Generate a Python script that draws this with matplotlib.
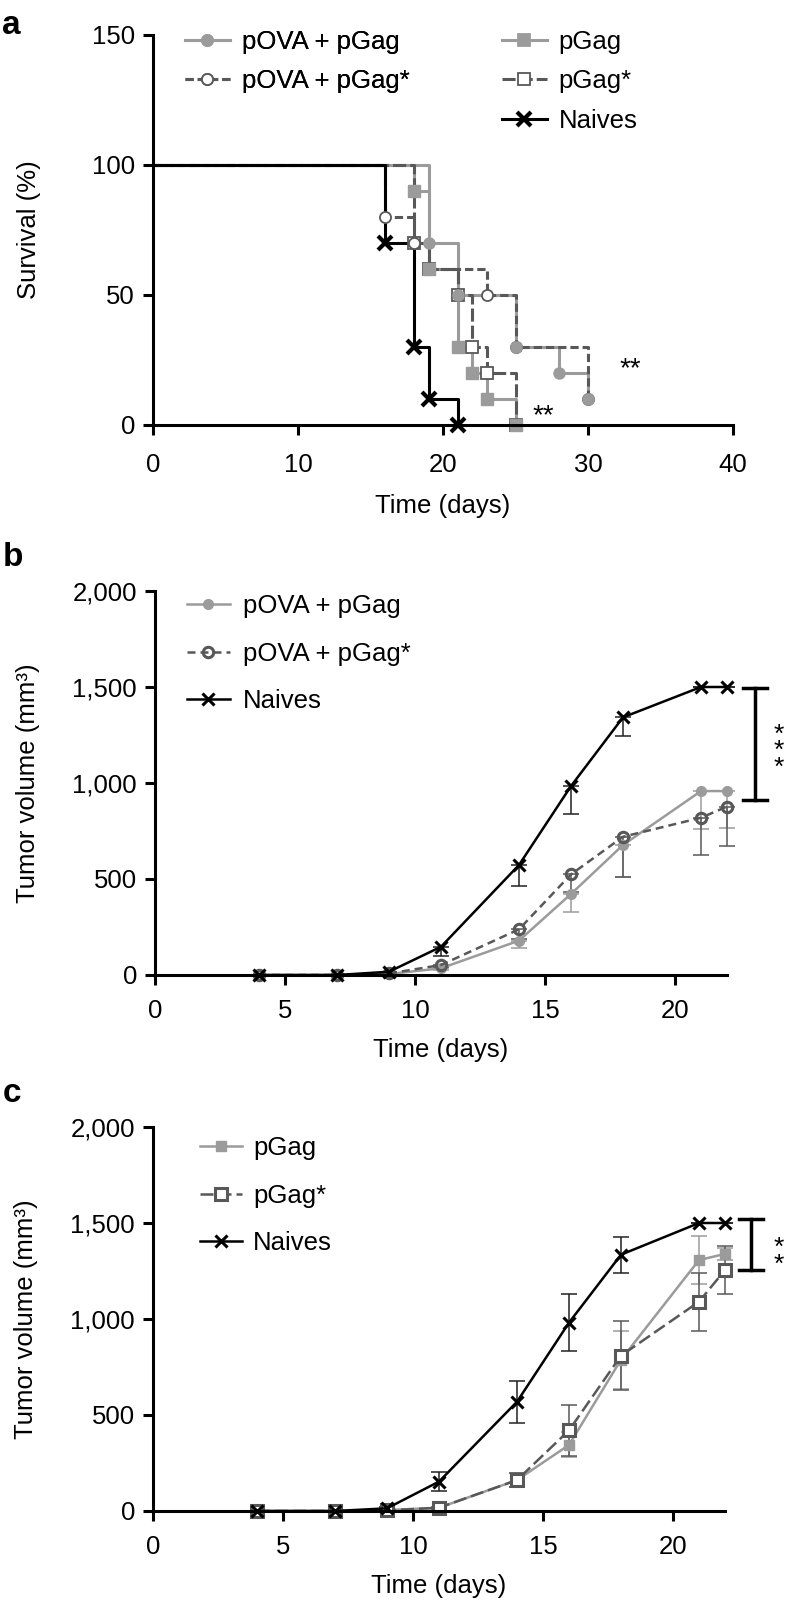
import matplotlib
matplotlib.use('Agg')
import matplotlib.pyplot as plt
from matplotlib.lines import Line2D

plt.rcParams['font.family'] = ['Liberation Sans', 'DejaVu Sans']
FS = 18.5
plt.rcParams['font.size'] = FS

LIGHT = '#9b9b9b'
DARK = '#585858'

# --- panel a: survival (Kaplan-Meier steps) ---
naive_t = [0, 16, 18, 19, 21]
naive_s = [100, 70, 30, 10, 0]
pova_t = [0, 19, 21, 25, 28, 30]
pova_s = [100, 70, 50, 30, 20, 10]
povastar_t = [0, 16, 18, 19, 23, 25, 30]
povastar_s = [100, 80, 70, 60, 50, 30, 10]
pgag_t = [0, 18, 19, 21, 22, 23, 25]
pgag_s = [100, 90, 60, 30, 20, 10, 0]
pgagstar_t = [0, 18, 19, 21, 22, 23, 25]
pgagstar_s = [100, 70, 60, 50, 30, 20, 0]

# --- panels b and c: tumour volume ---
days = [4, 7, 9, 11, 14, 16, 18, 21, 22]

naive_b = [0, 0, 17, 147, 573, 984, 1342, 1500, 1500]
naive_b_err = [0, 0, 5, 48, 108, 146, 95, 0, 0]
pova_b = [0, 0, 5, 35, 179, 422, 677, 958, 958]
pova_b_err = [0, 0, 0, 10, 40, 92, 168, 199, 191]
povastar_b = [0, 0, 8, 52, 238, 524, 720, 819, 877]
povastar_b_err = [0, 0, 0, 10, 50, 90, 210, 194, 203]

naive_c = [0, 0, 14, 153, 569, 981, 1335, 1500, 1500]
naive_c_err = [0, 0, 5, 50, 110, 147, 94, 0, 0]
pgag_c = [0, 0, 5, 17, 161, 344, 788, 1307, 1339]
pgag_c_err = [0, 0, 2, 5, 35, 65, 150, 125, 32]
pgagstar_c = [0, 0, 3, 17, 161, 420, 809, 1090, 1255]
pgagstar_c_err = [0, 0, 2, 5, 35, 132, 180, 150, 126]

vol_ticks = [0, 500, 1000, 1500, 2000]
vol_labels = ['0', '500', '1,000', '1,500', '2,000']


def style_axes(ax, xpad):
    ax.spines['top'].set_visible(False)
    ax.spines['right'].set_visible(False)
    for s in ('left', 'bottom'):
        ax.spines[s].set_linewidth(2.2)
    ax.tick_params(direction='out', length=7, width=2.2, labelsize=FS, pad=6)
    ax.tick_params(axis='x', pad=xpad)


def star(ax, x, y, txt, fs=20):
    # centre the asterisk glyphs themselves (they sit high in the text box)
    ax.annotate(txt, (x, y), xytext=(0, -0.58 * fs), textcoords='offset points',
                ha='center', va='baseline', fontsize=fs, annotation_clip=False)


def star_column(ax, x, y, n, fs=19):
    # asterisks stacked one per line, tightly spaced
    ax.annotate('\n'.join(['*'] * n), (x, y), xytext=(0, -0.33 * fs),
                textcoords='offset points', ha='center', va='center',
                multialignment='center', linespacing=0.6, fontsize=fs,
                annotation_clip=False)


fig = plt.figure(figsize=(7.87, 16), dpi=100)

# ================= panel a =================
ax = fig.add_axes([0.1944, 0.7344, 0.737, 0.2438])
style_axes(ax, 13)
surv = [
    (pgag_t, pgag_s, LIGHT, '-', 's', LIGHT, 'pGag'),
    (pova_t, pova_s, LIGHT, '-', 'o', LIGHT, 'pOVA + pGag'),
    (pgagstar_t, pgagstar_s, DARK, (0, (4.3, 1.3)), 's', 'white', 'pGag*'),
    (povastar_t, povastar_s, DARK, (0, (2.7, 1.3)), 'o', 'white', 'pOVA + pGag*'),
    (naive_t, naive_s, 'black', '-', 'x', 'black', 'Naives'),
]
handles = {}
for t, s, col, ls, mk, mfc, lab in surv:
    ax.step(t, s, where='post', color=col, lw=2.2, ls=ls)
    mec = DARK if mfc == 'white' else col
    ms = 8.5 if mk == 's' else 8
    handles[lab] = Line2D([], [], color=col, lw=2.2, ls=ls, marker=mk,
                          ms=ms if mk != 'x' else 9.5, mfc=mfc, mec=mec,
                          mew=3 if mk == 'x' else 1.3)
# markers: open (dark) first, filled (light) on top, crosses last
for t, s, col, ls, mk, mfc, lab in [surv[2], surv[3], surv[0], surv[1]]:
    mec = DARK if mfc == 'white' else col
    ms = 8.5 if mk == 's' else 8
    ax.plot(t[1:], s[1:], ls='none', marker=mk, ms=ms, mfc=mfc, mec=mec,
            mew=1.3 if mfc == 'white' else 1, clip_on=False)
ax.plot(naive_t[1:], naive_s[1:], ls='none', marker='x', ms=9.5, mew=3,
        color='black', clip_on=False)
ax.set_xlim(0, 40)
ax.set_ylim(0, 150)
ax.set_xticks([0, 10, 20, 30, 40])
ax.set_yticks([0, 50, 100, 150])
ax.set_xlabel('Time (days)', fontsize=FS)
ax.set_ylabel('Survival (%)', fontsize=FS)
ax.xaxis.set_label_coords(0.5, -0.178)
ax.yaxis.set_label_coords(-0.193, 0.5)
star(ax, 32.9, 25, '**')
star(ax, 26.9, 7, '**')

leg_kw = dict(loc='upper left', frameon=False, borderpad=0, borderaxespad=0,
              handlelength=1.75, handletextpad=0.45, fontsize=FS, labelspacing=0.6)
leg1 = fig.legend([handles['pOVA + pGag'], handles['pOVA + pGag*']],
                  ['pOVA + pGag', 'pOVA + pGag*'],
                  bbox_to_anchor=(185 / 787, 1 - 30 / 1600), **leg_kw)
fig.legend([handles['pGag'], handles['pGag*'], handles['Naives']],
           ['pGag', 'pGag*', 'Naives'],
           bbox_to_anchor=(502 / 787, 1 - 30 / 1600), **leg_kw)
fig.add_artist(leg1)
fig.text(0.003, 1 - 25 / 1600, 'a', fontsize=24, fontweight='bold', va='center')


def volume_panel(rect, series, bracket, stars, letter, letter_y, two_sided,
                 leg_x, leg_y, hlen, hpad):
    ax = fig.add_axes(rect)
    style_axes(ax, 10.5)
    hs, labs = [], []
    for vals, err, col, ls, mk, mfc, ecol, lab in series:
        upper = err if two_sided else [0] * len(err)
        ax.errorbar(days, vals, yerr=[err, upper], fmt='none', ecolor=ecol,
                    elinewidth=1.1, capsize=6, capthick=1.1, clip_on=False)
    for vals, err, col, ls, mk, mfc, ecol, lab in series:
        if mk == 'x':
            kw = dict(marker='x', ms=9, mew=2.2)
        elif mfc == 'full':
            kw = dict(marker=mk, ms=7 if mk == 'o' else 6.8, mfc=col, mec=col, mew=1)
        else:
            kw = dict(marker=mk, ms=8.5 if mk == 's' else 7.5, mfc=mfc, mec=col, mew=2.2)
        ln, = ax.plot(days, vals, color=col, lw=1.8, ls=ls, clip_on=False, **kw)
        hs.append(ln)
        labs.append(lab)
    ax.set_xlim(0, 22)
    ax.set_ylim(0, 2000)
    ax.set_xticks([0, 5, 10, 15, 20])
    ax.set_yticks(vol_ticks)
    ax.set_yticklabels(vol_labels)
    ax.set_xlabel('Time (days)', fontsize=FS)
    ax.set_ylabel('Tumor volume (mm³)', fontsize=FS)
    ax.xaxis.set_label_coords(0.5, -0.165)
    ax.yaxis.set_label_coords(-0.201, 0.5)
    bx, b_lo, b_hi = bracket
    ax.plot([bx, bx], [b_lo, b_hi], color='black', lw=2.5, clip_on=False)
    for yy in (b_lo, b_hi):
        ax.plot([bx - 0.45, bx + 0.45], [yy, yy], color='black', lw=2.5, clip_on=False)
    sx, sy, n = stars
    star_column(ax, sx, sy, n)
    fig.legend(hs, labs, loc='upper left', frameon=False,
               borderpad=0, borderaxespad=0, handlelength=hlen, handletextpad=hpad,
               labelspacing=0.92, fontsize=FS,
               bbox_to_anchor=(leg_x / 787, 1 - leg_y / 1600))
    fig.text(0.003, 1 - letter_y / 1600, letter, fontsize=24, fontweight='bold', va='center')
    return ax


# ================= panel b =================
rect_b = [155 / 787, 1 - 975 / 1600, 572 / 787, 384 / 1600]
series_b = [
    (pova_b, pova_b_err, LIGHT, '-', 'o', 'full', LIGHT, 'pOVA + pGag'),
    (povastar_b, povastar_b_err, DARK, (0, (3.2, 2)), 'o', 'none', DARK, 'pOVA + pGag*'),
    (naive_b, naive_b_err, 'black', '-', 'x', 'black', '#222222', 'Naives'),
]
volume_panel(rect_b, series_b, (23.08, 911, 1497), (24.0, 1212, 3), 'b', 557,
             False, 187, 594, 1.67, 0.5)

# ================= panel c =================
rect_c = [153 / 787, 1 - 1511 / 1600, 572 / 787, 384 / 1600]
series_c = [
    (pgag_c, pgag_c_err, LIGHT, '-', 's', 'full', LIGHT, 'pGag'),
    (pgagstar_c, pgagstar_c_err, DARK, (0, (5.2, 2)), 's', 'white', DARK, 'pGag*'),
    (naive_c, naive_c_err, 'black', '-', 'x', 'black', '#222222', 'Naives'),
]
volume_panel(rect_c, series_c, (23.0, 1255, 1519), (24.05, 1372, 2), 'c', 1093,
             True, 200, 1136, 1.63, 0.43)

fig.savefig('out.png', dpi=100)
